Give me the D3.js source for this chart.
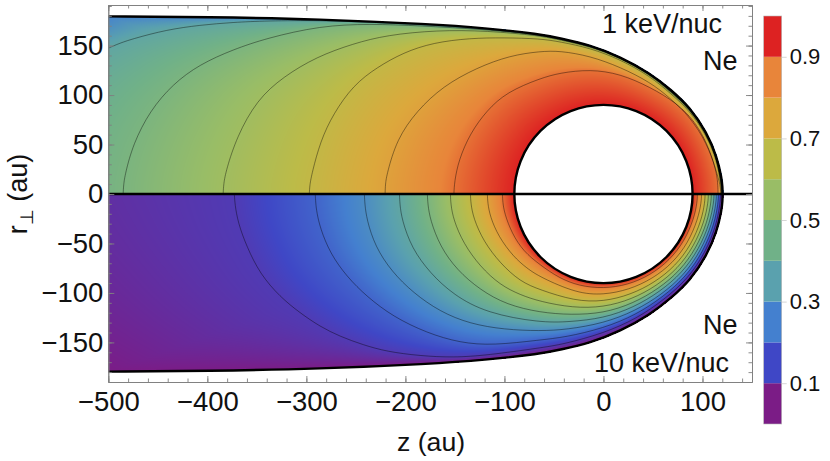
<!DOCTYPE html>
<html>
<head>
<meta charset="utf-8">
<script src="https://cdn.jsdelivr.net/npm/d3@7"></script>
<style>
  body { margin: 0; background: #fff; }
  text { font-family: "Liberation Sans", sans-serif; fill: #111; }
</style>
</head>
<body>
<svg id="chart" width="830" height="461"></svg>
<script>
// all values are [z, r] in au
const holeRadius = 90;
const boundary = [[-500,179.5],[-400,178.8],[-286,176.7],[-175,171.7],[-120,167.8],[-64,161.6],[-43.7,157.3],[-13.4,150.5],[16.9,138.7],[47.2,121.9],[67.3,106],[87.5,87.5],[104.4,62],[114.5,38],[119.4,16],[120.2,7],[120.3,0]];
const edgeTail = [[-720,0],[-620,100]];

const topLevels = [0.9, 0.8, 0.7, 0.6, 0.5, 0.4];
const top09 = [[-151,0],[-150.5,12],[-146.2,34.3],[-134.6,61.3],[-117.8,84.5],[-97.6,103],[-63.9,116.9],[-43.7,122.5],[-13.4,126],[16.9,121.5],[47.2,108],[74.1,92],[94.3,71.4],[107.7,44.2],[114.5,20.8],[115.6,8],[115.7,0]];
const top08 = [[-220.5,0],[-220.2,10],[-218.7,20.2],[-208.7,55.3],[-188.5,84],[-162,109],[-128,127.6],[-94.2,140],[-63.9,144.2],[-43.7,144.7],[-13.4,139.4],[16.9,128.3],[47.2,113],[67.3,97],[87.5,77.8],[104.4,51.5],[113.8,24.2],[118.2,8],[118.4,0]];
const top07 = [[-297,0],[-296.6,9],[-294.3,21.2],[-285.9,53.2],[-272.8,81.1],[-252.6,110],[-228.7,128],[-202,143],[-172,153],[-134.6,157.5],[-101,158],[-63.9,157],[-43.7,153.8],[-13.4,147.5],[16.9,136],[47.2,119],[67.3,102],[87.5,84],[104.4,58.6],[114.5,34],[118.8,8],[118.9,0]];
const top06 = [[-384,0],[-383.6,10],[-381,24.2],[-370.2,57.9],[-350,95],[-323.4,118.5],[-289.6,138.7],[-252.6,152],[-219,160.6],[-168.2,165.6],[-117.7,165],[-64,160],[-43.7,155.6],[-13.4,149],[16.9,137.5],[47.2,120.4],[67.3,103.5],[87.5,85.4],[104.4,60],[114.5,36],[119.3,8],[119.4,0]];
const top05 = [[-485,0],[-484.6,9],[-483,20.2],[-475,50.5],[-458,84],[-435,111],[-407.8,131],[-374,146],[-340,157.5],[-286,170],[-236,172],[-185,170],[-120,166.3],[-64,160.9],[-43.7,156.4],[-13.4,149.7],[16.9,138],[47.2,121],[67.3,104.2],[87.5,86],[104.4,60.8],[114.5,37],[119.7,8],[119.8,0]];
const top04 = [[-610,0],[-600,60],[-560,115],[-500,148.8],[-475,157],[-441,166],[-407.6,170.7],[-374,173.5],[-340,175],[-286,175.5],[-230,173.3],[-175,170.9],[-120,166.9],[-64,161.2],[-43.7,156.8],[-13.4,150],[16.9,138.3],[47.2,121.4],[67.3,104.6],[87.5,86.4],[104.4,61.2],[114.5,37.4],[119.9,8],[120,0]];
const topContours = [top09, top08, top07, top06, top05, top04];
const topHoleValue = 0.98;
const topEdgeValue = 0.27;

const botLevels = [0.9, 0.8, 0.7, 0.6, 0.5, 0.4, 0.3, 0.2, 0.1];
const bot09 = [[-102,0],[-101.7,8],[-100,19.5],[-92.5,39.7],[-80.8,58],[-64,71.7],[-45,84.8],[-24.9,92.9],[0,95.6],[24.6,91.9],[47.4,82],[66.9,66.9],[82,47.3],[91.5,24.5],[94.7,8],[94.8,0]];
const bot08 = [[-117.2,0],[-116.9,9],[-114.4,23],[-106,43],[-91,63.3],[-77.4,75],[-64,84],[-26.9,100.4],[0,102],[25.9,96.7],[49.5,85.7],[69.9,69.9],[85.5,49.3],[95.4,25.6],[98.9,8],[99,0]];
const bot07 = [[-134.3,0],[-134,9],[-131.3,24.6],[-121,48],[-104.3,70],[-84,88.6],[-64,96.9],[-29,108.1],[0,108.8],[27.3,101.8],[51.7,89.5],[72.7,72.7],[88.7,51.2],[99,26.5],[102.5,8],[102.6,0]];
const bot06 = [[-154.5,0],[-154.2,10],[-151.5,26],[-141.4,50],[-124.5,73.4],[-104.3,92],[-84,102],[-64,108.7],[-30.9,115.1],[0,114.5],[28.5,106.5],[53.7,92.9],[75.2,75.2],[91.4,52.8],[102.1,27.4],[105.8,8],[105.9,0]];
const bot05 = [[-177.8,0],[-177.4,10],[-175,26],[-165,53],[-148,76.8],[-124.5,97],[-97.6,112],[-64,119.8],[-32.8,122.2],[0,120.5],[29.7,110.7],[55.5,96],[77.5,77.5],[94,54.3],[105,28.2],[108.8,8],[108.9,0]];
const bot04 = [[-206,0],[-205.6,10],[-203.6,26],[-193.5,55],[-175,80],[-151.5,102],[-117.8,120.5],[-64,130],[-34.7,129.3],[0,125.6],[30.7,114.6],[57,98.8],[79.6,79.6],[96.5,55.7],[107.6,28.9],[111.5,8],[111.6,0]];
const bot03 = [[-241.4,0],[-241,10],[-239,26],[-230.6,53],[-213.8,78.5],[-192,100],[-165,119],[-134.6,131.3],[-100,137],[-64,138.5],[-36.7,137],[0,130.6],[31.8,118.4],[58.7,101.7],[81.7,81.7],[98.6,57],[110,29.5],[113.9,8],[114,0]];
const bot02 = [[-291,0],[-290.6,9],[-289.4,19],[-286,34.6],[-276,60],[-259.2,83.5],[-239,103.7],[-212.4,124],[-178.4,140.4],[-144.7,150.5],[-111.4,153],[-64,147.5],[-38.8,144.8],[0,135.7],[32.8,122.2],[60.1,104.1],[83.5,83.5],[100.8,58.2],[112.2,30.1],[116,8],[116.1,0]];
const bot01 = [[-372.7,0],[-372.2,10],[-369,29.3],[-360.2,53.2],[-346.8,80.8],[-326.6,104],[-306.4,120.2],[-286.2,134],[-266,144],[-242.7,152.5],[-218.8,159.3],[-185,163.6],[-151.8,165.3],[-117.4,163],[-64,155.5],[-40.7,151.9],[0,140.8],[33.7,125.9],[61.6,106.6],[85.4,85.4],[102.9,59.4],[114.4,30.7],[118.1,8],[118.2,0]];
const botContours = [bot09, bot08, bot07, bot06, bot05, bot04, bot03, bot02, bot01];
const botHoleValue = 0.98;
const botEdgeValue = 0;

const barColors = ['#7b1c86','#3f47c6','#4480cf','#5aa1ae','#70b188','#99bd66','#bcbb48','#dca83c','#e8853a','#dd2222'];
const colorStops = [0, 0.14, 0.26, 0.37, 0.47, 0.58, 0.68, 0.78, 0.88, 0.98];
const barTicks = [0.1, 0.3, 0.5, 0.7, 0.9];
const xMajor = d3.range(-500, 151, 100);
const xMinor = d3.range(-500, 150, 20);
const yMajor = [-150, -100, -50, 0, 50, 100, 150];
const yMinor = d3.range(-190, 191, 10);

const svg = d3.select('#chart');
const x = d3.scaleLinear().domain([-500, 150]).range([108.3, 752]);
const y = d3.scaleLinear().domain([-190, 191]).range([382, 5]);
const colorOf = d3.scaleLinear()
    .domain(colorStops)
    .range(barColors)
    .interpolate(d3.interpolateRgb)
    .clamp(true);

// contours as rho over angle, so every pixel can find its value between them
function polarLookup(points) {
    let polar = points.map(p => [Math.atan2(p[1], p[0]) * 180 / Math.PI, Math.hypot(p[0], p[1])])
                      .sort((a, b) => a[0] - b[0]);
    let bis = d3.bisector(d => d[0]).left;
    return function (theta) {
        let i = Math.min(Math.max(bis(polar, theta), 1), polar.length - 1);
        let a = polar[i - 1], b = polar[i];
        let t = b[0] === a[0] ? 0 : (theta - a[0]) / (b[0] - a[0]);
        return a[1] + (b[1] - a[1]) * t;
    };
}

function smoothPoints(points) {
    let p = document.createElementNS('http://www.w3.org/2000/svg', 'path');
    p.setAttribute('d', d3.line().curve(d3.curveBasis)(points));
    svg.node().appendChild(p);
    let len = p.getTotalLength(), out = [];
    for (let s = 0; s <= len; s += 2) {
        let q = p.getPointAtLength(s);
        out.push([q.x, Math.max(q.y, 0)]);
    }
    out.push(points[points.length - 1]);
    p.remove();
    return out;
}

const rhoEdge = polarLookup(edgeTail.concat(smoothPoints(boundary)));
const stepsPerDeg = 10;

function buildTable(contours) {
    let fns = contours.map(c => polarLookup(smoothPoints(c)));
    return d3.range(0, 180 * stepsPerDeg + 1).map(k => {
        let th = k / stepsPerDeg;
        return fns.map(f => f(th)).concat([rhoEdge(th)]);
    });
}

const topTable = buildTable(topContours);
const botTable = buildTable(botContours);

function valueAt(z, r, table, levels, holeValue, edgeValue) {
    let rho = Math.hypot(z, r);
    let th = Math.atan2(r, z) * 180 / Math.PI;
    let row = table[Math.round(th * stepsPerDeg)];
    let last = row.length - 1;
    if (rho < holeRadius || rho > row[last] + 1) return null;
    let r0 = holeRadius, v0 = holeValue;
    for (let k = 0; k <= last; k++) {
        let v1 = k === last ? edgeValue : levels[k];
        if (rho <= row[k]) {
            return row[k] <= r0 ? v1 : v0 + (v1 - v0) * (rho - r0) / (row[k] - r0);
        }
        r0 = Math.max(r0, row[k]);
        v0 = v1;
    }
    return edgeValue;
}

// density field
const x0 = Math.floor(x(-500)), x1 = Math.ceil(x(150));
const y0 = Math.floor(y(191)), y1 = Math.ceil(y(-190));
const canvas = document.createElement('canvas');
canvas.width = x1 - x0;
canvas.height = y1 - y0;
const ctx = canvas.getContext('2d');
const img = ctx.createImageData(canvas.width, canvas.height);
for (let py = y0; py < y1; py++) {
    for (let px = x0; px < x1; px++) {
        let z = x.invert(px + 0.5);
        if (z < -500) continue;
        let r = y.invert(py + 0.5);
        let upper = r >= 0;
        let v = upper
            ? valueAt(z, r, topTable, topLevels, topHoleValue, topEdgeValue)
            : valueAt(z, -r, botTable, botLevels, botHoleValue, botEdgeValue);
        if (v === null) continue;
        let c = d3.rgb(colorOf(v));
        let o = ((py - y0) * canvas.width + (px - x0)) * 4;
        img.data[o] = c.r;
        img.data[o + 1] = c.g;
        img.data[o + 2] = c.b;
        img.data[o + 3] = 255;
    }
}
ctx.putImageData(img, 0, 0);

svg.append('image')
   .attr('x', x0).attr('y', y0)
   .attr('width', canvas.width).attr('height', canvas.height)
   .attr('href', canvas.toDataURL());

svg.append('clipPath').attr('id', 'frame')
   .append('rect')
   .attr('x', x(-500)).attr('y', y(191))
   .attr('width', x(150) - x(-500)).attr('height', y(-190) - y(191));

const plot = svg.append('g').attr('clip-path', 'url(#frame)');
const upperLine = d3.line().x(d => x(d[0])).y(d => y(d[1])).curve(d3.curveBasis);
const lowerLine = d3.line().x(d => x(d[0])).y(d => y(-d[1])).curve(d3.curveBasis);

plot.selectAll('path.top').data(topContours).enter().append('path')
    .attr('class', 'top').attr('d', upperLine)
    .attr('fill', 'none').attr('stroke', '#000').attr('stroke-opacity', 0.5).attr('stroke-width', 0.8);
plot.selectAll('path.bot').data(botContours).enter().append('path')
    .attr('class', 'bot').attr('d', lowerLine)
    .attr('fill', 'none').attr('stroke', '#000').attr('stroke-opacity', 0.5).attr('stroke-width', 0.8);

plot.append('path').attr('d', upperLine(boundary))
    .attr('fill', 'none').attr('stroke', '#000').attr('stroke-width', 2.4);
plot.append('path').attr('d', lowerLine(boundary))
    .attr('fill', 'none').attr('stroke', '#000').attr('stroke-width', 2.4);
plot.append('circle')
    .attr('cx', x(0)).attr('cy', y(0)).attr('r', x(holeRadius) - x(0))
    .attr('fill', '#fff').attr('stroke', '#000').attr('stroke-width', 2.4);
plot.append('line')
    .attr('x1', x(-500)).attr('x2', x(150)).attr('y1', y(0)).attr('y2', y(0))
    .attr('stroke', '#000').attr('stroke-width', 2.4);

// frame with ticks on the four sides
function frameAxis(axis, pos, vals, size, labelled, pad) {
    let a = axis.tickValues(vals).tickSizeInner(-size).tickSizeOuter(0).tickPadding(pad || 3);
    if (!labelled) a.tickFormat('');
    let g = svg.append('g').attr('transform', pos).call(a);
    g.selectAll('path,line').attr('stroke', '#808080').attr('stroke-width', 0.9);
    g.selectAll('text').attr('font-family', '"Liberation Sans", sans-serif').attr('font-size', 27.5).attr('fill', '#111');
    return g;
}
const bottomAt = 'translate(0,' + y(-190) + ')', topAt = 'translate(0,' + y(191) + ')';
const leftAt = 'translate(' + x(-500) + ',0)', rightAt = 'translate(' + x(150) + ',0)';
frameAxis(d3.axisBottom(x), bottomAt, xMinor, 3.5, false);
frameAxis(d3.axisTop(x), topAt, xMinor, 3.5, false);
frameAxis(d3.axisLeft(y), leftAt, yMinor, 3.5, false);
frameAxis(d3.axisRight(y), rightAt, yMinor, 3.5, false);
frameAxis(d3.axisBottom(x), bottomAt, xMajor, 6, true, 9);
frameAxis(d3.axisTop(x), topAt, xMajor, 6, false);
frameAxis(d3.axisLeft(y), leftAt, yMajor, 6, true, 5);
frameAxis(d3.axisRight(y), rightAt, yMajor, 6, false);

svg.append('text').attr('x', 431).attr('y', 451).attr('text-anchor', 'middle')
   .attr('font-size', 26.7).text('z (au)');

const yTitle = svg.append('text')
   .attr('transform', 'translate(27,194) rotate(-90)')
   .attr('text-anchor', 'middle').attr('font-size', 27);
yTitle.append('tspan').text('r');
yTitle.append('tspan').attr('dy', 6).attr('font-size', 18).text('\u22a5');
yTitle.append('tspan').attr('dy', -6).text(' (au)');

const notes = [
    {text: '1 keV/nuc', x: 602, y: 33},
    {text: 'Ne', x: 703, y: 70},
    {text: 'Ne', x: 703, y: 334},
    {text: '10 keV/nuc', x: 594, y: 372}
];
svg.selectAll('text.note').data(notes).enter().append('text')
   .attr('class', 'note').attr('x', d => d.x).attr('y', d => d.y)
   .attr('font-size', 27).text(d => d.text);

// colour bar
const bar = d3.scaleLinear().domain([0, 1]).range([424, 16]);
svg.selectAll('rect.band').data(barColors).enter().append('rect')
   .attr('class', 'band')
   .attr('x', 763.7).attr('width', 18)
   .attr('y', (d, i) => bar((i + 1) / barColors.length))
   .attr('height', (d, i) => bar(i / barColors.length) - bar((i + 1) / barColors.length))
   .attr('fill', d => d);
svg.append('rect').attr('x', 763.7).attr('y', 16).attr('width', 18).attr('height', 408)
   .attr('fill', 'none').attr('stroke', '#b8b8b8').attr('stroke-width', 0.6);
const barAxis = d3.axisRight(bar).tickValues(barTicks).tickFormat(d3.format('.1f'))
   .tickSizeInner(5).tickSizeOuter(0).tickPadding(3);
const barG = svg.append('g').attr('transform', 'translate(781.7,0)').call(barAxis);
barG.select('path').remove();
barG.selectAll('line').attr('stroke', '#ccc').attr('stroke-width', 0.8);
barG.selectAll('text').attr('font-family', '"Liberation Sans", sans-serif').attr('font-size', 22).attr('fill', '#111');
</script>
</body>
</html>
